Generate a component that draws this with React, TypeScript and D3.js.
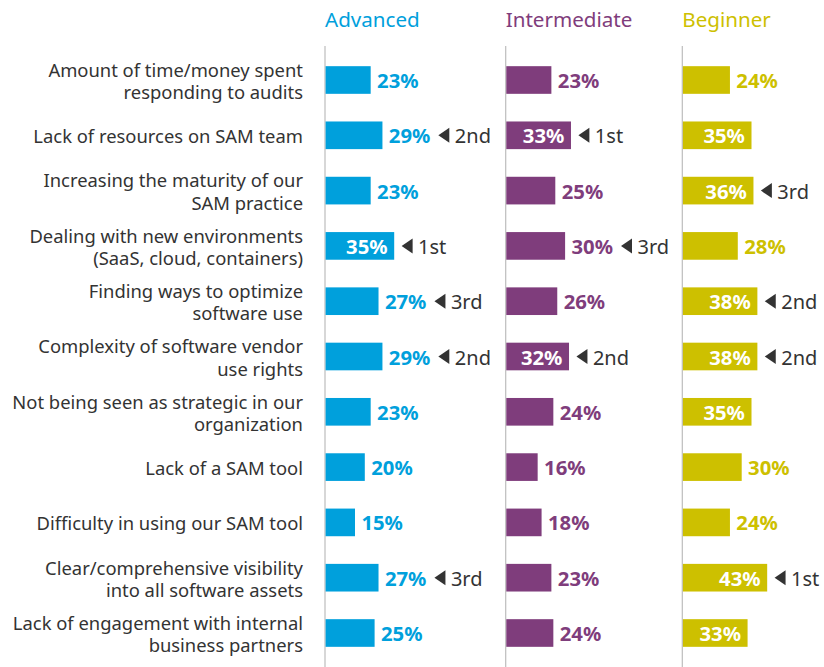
import React from 'react';
import * as d3 from 'd3';

const categories = [
  'Amount of time/money spent\nresponding to audits',
  'Lack of resources on SAM team',
  'Increasing the maturity of our\nSAM practice',
  'Dealing with new environments\n(SaaS, cloud, containers)',
  'Finding ways to optimize\nsoftware use',
  'Complexity of software vendor\nuse rights',
  'Not being seen as strategic in our\norganization',
  'Lack of a SAM tool',
  'Difficulty in using our SAM tool',
  'Clear/comprehensive visibility\ninto all software assets',
  'Lack of engagement with internal\nbusiness partners',
];

const groups = ['Advanced', 'Intermediate', 'Beginner'];
const advanced = [23, 29, 23, 35, 27, 29, 23, 20, 15, 27, 25];
const intermediate = [23, 33, 25, 30, 26, 32, 24, 16, 18, 23, 24];
const beginner = [24, 35, 36, 28, 38, 38, 35, 30, 24, 43, 33];
const advancedRanks = ['', '2nd', '', '1st', '3rd', '2nd', '', '', '', '3rd', ''];
const intermediateRanks = ['', '1st', '', '3rd', '', '2nd', '', '', '', '', ''];
const beginnerRanks = ['', '', '3rd', '', '2nd', '2nd', '', '', '', '1st', ''];

const colors = ['#00a0dc', '#7f3d7c', '#cdc000'];
const FONT = '"Noto Sans", sans-serif';
const VALUE_SIZE = 20.3;

const W = 824;
const H = 667;

let ctx: CanvasRenderingContext2D | null = null;
function textWidth(s: string, size: number, weight = 400) {
  if (!ctx) ctx = document.createElement('canvas').getContext('2d');
  if (!ctx) return s.length * size * 0.55;
  ctx.font = `${weight} ${size}px ${FONT}`;
  return ctx.measureText(s).width;
}

export default function App() {
  const series = [advanced, intermediate, beginner];
  const ranks = [advancedRanks, intermediateRanks, beginnerRanks];

  const panelX = d3.scaleOrdinal<string, number>().domain(groups).range([325, 505.7, 682.3]);
  const x = d3.scaleLinear().domain([0, 100]).range([0, 196]);
  const y = d3.scaleBand<string>().domain(categories).range([52.35, 660.65]).paddingInner(0.5).paddingOuter(0.25);

  return (
    <>
      <style>{`body{margin:0}`}</style>
      <svg width={W} height={H} style={{ display: 'block', fontFamily: FONT }}>
        {categories.map((c) => {
          const lines = c.split('\n');
          const cy = (y(c) ?? 0) + y.bandwidth() / 2;
          const lh = 22.4;
          const top = cy - ((lines.length - 1) * lh) / 2;
          return (
            <text key={c} x={303} textAnchor="end" fontSize={18.4} fill="#333">
              {lines.map((l, i) => (
                <tspan key={i} x={303} y={top + i * lh + 8}>{l}</tspan>
              ))}
            </text>
          );
        })}
        {groups.map((g, gi) => {
          const x0 = panelX(g);
          return (
            <g key={g} transform={`translate(${x0},0)`}>
              <text x={0} y={27} fontSize={20.6} fill={colors[gi]}>{g}</text>
              <line x1={0} x2={0} y1={46} y2={H} stroke="#bdbdbd" strokeWidth={1.2} />
              {categories.map((c, i) => {
                const v = series[gi][i];
                const w = x(v);
                const by = y(c) ?? 0;
                const cy = by + y.bandwidth() / 2;
                const inside = v >= 32;
                const label = `${v}%`;
                const lw = textWidth(label, VALUE_SIZE, 700);
                const labelEnd = inside ? w : w + 7 + lw;
                const rank = ranks[gi][i];
                const tx = labelEnd + 8;
                return (
                  <g key={c}>
                    <rect x={0.6} y={by} width={w} height={y.bandwidth()} fill={colors[gi]} />
                    <text
                      x={inside ? w - 6 : w + 7}
                      y={cy + 8}
                      textAnchor={inside ? 'end' : 'start'}
                      fontSize={VALUE_SIZE}
                      fontWeight={700}
                      fill={inside ? '#fff' : colors[gi]}
                    >
                      {label}
                    </text>
                    {rank && (
                      <g>
                        <path d={`M${tx},${cy} L${tx + 11},${cy - 7.5} L${tx + 11},${cy + 7.5} Z`} fill="#333" />
                        <text x={tx + 16.5} y={cy + 8} fontSize={20} fill="#333">{rank}</text>
                      </g>
                    )}
                  </g>
                );
              })}
            </g>
          );
        })}
      </svg>
    </>
  );
}
